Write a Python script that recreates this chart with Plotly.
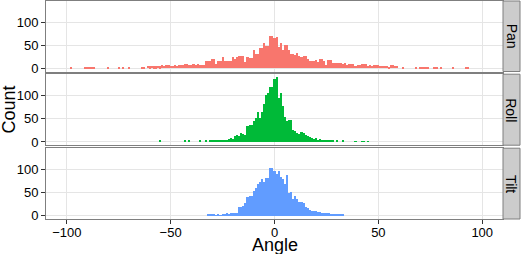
import numpy as np
import plotly.graph_objects as go
from plotly.subplots import make_subplots

# ---- data (histogram counts, binwidth = 1 degree, bins centred on integers) ----
facets = ["Pan", "Roll", "Tilt"]
colors = ["#F8766D", "#00BA38", "#619CFF"]

pan_start = -98
pan_counts = [1, 0, 0, 0, 0, 0, 0, 1, 2, 1,
              1, 2, 0, 0, 0, 0, 0, 0, 3, 0,
              0, 0, 0, 1, 0, 3, 0, 0, 1, 0,
              0, 0, 0, 0, 2, 2, 0, 5, 4, 5,
              4, 4, 5, 4, 7, 6, 7, 7, 5, 5,
              7, 6, 7, 8, 7, 9, 9, 7, 7, 9,
              8, 9, 7, 7, 7, 16, 15, 16, 20, 20,
              9, 16, 16, 24, 16, 16, 16, 16, 24, 20,
              24, 26, 26, 26, 14, 24, 22, 22, 39, 31,
              31, 44, 44, 56, 48, 48, 71, 71, 67, 69,
              46, 56, 39, 50, 50, 39, 31, 31, 29, 33,
              26, 25, 27, 26, 20, 16, 17, 16, 18, 14,
              20, 20, 16, 7, 18, 18, 11, 12, 11, 11,
              11, 9, 11, 7, 9, 9, 9, 5, 7, 7,
              9, 9, 9, 5, 7, 5, 7, 7, 7, 5,
              5, 5, 5, 3, 7, 7, 5, 6, 0, 0,
              1, 0, 0, 0, 0, 0, 1, 0, 1, 2,
              1, 1, 2, 0, 0, 3, 3, 0, 1, 0,
              0, 0, 0, 0, 3, 0, 0, 0, 0, 0, 3, 3]

roll_start = -55
roll_counts = [2, 0, 0, 0, 0, 0, 0, 0, 0, 0,
               0, 0, 2, 0, 2, 0, 0, 0, 0, 2,
               0, 0, 2, 0, 2, 2, 2, 4, 4, 4,
               2, 2, 4, 6, 8, 6, 13, 15, 13, 19,
               17, 15, 34, 36, 36, 45, 51, 64, 51, 64,
               81, 102, 106, 119, 119, 136, 140, 94, 106, 77,
               53, 45, 47, 47, 26, 23, 19, 17, 21, 19,
               15, 13, 11, 9, 6, 9, 4, 6, 4, 4,
               3, 3, 2, 2, 0, 2, 0, 0, 2, 0,
               0, 0, 0, 0, 1, 0, 0, 1, 1, 0, 1]

tilt_start = -32
tilt_counts = [3, 4, 4, 2, 1, 2, 1, 4, 4, 6,
               4, 6, 6, 6, 6, 19, 19, 21, 28, 41,
               43, 43, 54, 60, 69, 73, 79, 73, 81, 81,
               103, 103, 96, 91, 96, 83, 80, 68, 88, 49,
               51, 35, 43, 36, 30, 30, 28, 19, 16, 13,
               11, 10, 9, 8, 7, 6, 6, 6, 6, 4,
               4, 4, 2, 2, 2, 2]

starts = [pan_start, roll_start, tilt_start]
counts = [pan_counts, roll_counts, tilt_counts]

x_ticks = [-100, -50, 0, 50, 100]
y_ticks = [0, 50, 100]

# ---- figure ----
W, H = 522, 254
ML, MR, MT, MB = 46, 19, 0, 35
PW = W - ML - MR
PH = H - MT - MB

fig = make_subplots(rows=3, cols=1, shared_xaxes=True, vertical_spacing=0.01)

for i, (name, col, s, c) in enumerate(zip(facets, colors, starts, counts)):
    x = np.arange(s, s + len(c))
    fig.add_trace(go.Bar(x=x, y=c, width=1.0, marker=dict(color=col, line=dict(width=0)),
                         showlegend=False, hoverinfo="x+y"), row=i + 1, col=1)

# domains in pixels from top of plot area
panel_px = [(1, 71.5), (74.2, 145.2), (148.2, 219)]
font = "Liberation Sans, Arial, Helvetica, sans-serif"
grid = "#E5E5E5"
border = "#7F7F7F"

for i, (top, bot) in enumerate(panel_px):
    dom = [(PH - bot) / PH, (PH - top) / PH]
    sfx = "" if i == 0 else str(i + 1)
    fig.layout["yaxis" + sfx].update(
        domain=dom, range=[-7, 147], tickvals=y_ticks, showgrid=True, gridcolor=grid,
        gridwidth=1, zeroline=False, showline=True, mirror=True, linecolor=border,
        linewidth=1, ticks="outside", ticklen=4, tickcolor="#333333",
        tickfont=dict(family=font, size=13, color="black"))
    bottom = (i == 2)
    fig.layout["xaxis" + sfx].update(
        range=[-110, 110], tickvals=x_ticks, showgrid=True, gridcolor=grid, gridwidth=1,
        zeroline=False, showline=True, mirror=True, linecolor=border, linewidth=1,
        ticks="outside" if bottom else "", ticklen=4, tickcolor="#333333",
        ticklabelstandoff=-3,
        showticklabels=bottom, tickfont=dict(family=font, size=13, color="black"))
    # strip
    yref = "y" + sfx + " domain"
    fig.add_shape(type="rect", xref="paper", yref=yref, x0=1, x1=1 + 17 / PW, y0=0, y1=1,
                  fillcolor="#CCCCCC", line=dict(color=border, width=1), layer="above")
    fig.add_annotation(text=facets[i], xref="paper", yref=yref, x=1 + 8.5 / PW, y=0.5,
                       showarrow=False, textangle=90, xanchor="center", yanchor="middle",
                       font=dict(family=font, size=14, color="black"))

fig.add_annotation(text="Count", xref="paper", yref="paper", x=(8 - ML) / PW, y=0.5,
                   showarrow=False, textangle=-90, xanchor="center", yanchor="middle",
                   font=dict(family=font, size=18, color="black"))
fig.add_annotation(text="Angle", xref="paper", yref="paper", x=0.5, y=(PH - 245) / PH,
                   showarrow=False, xanchor="center", yanchor="middle",
                   font=dict(family=font, size=18, color="black"))

fig.update_layout(width=W, height=H, margin=dict(l=ML, r=MR, t=MT, b=MB),
                  paper_bgcolor="white", plot_bgcolor="white", bargap=0,
                  showlegend=False)

fig.write_html("out.html", config={"displayModeBar": False},
               post_script="document.body.style.margin='0';document.body.style.overflow='hidden';")
